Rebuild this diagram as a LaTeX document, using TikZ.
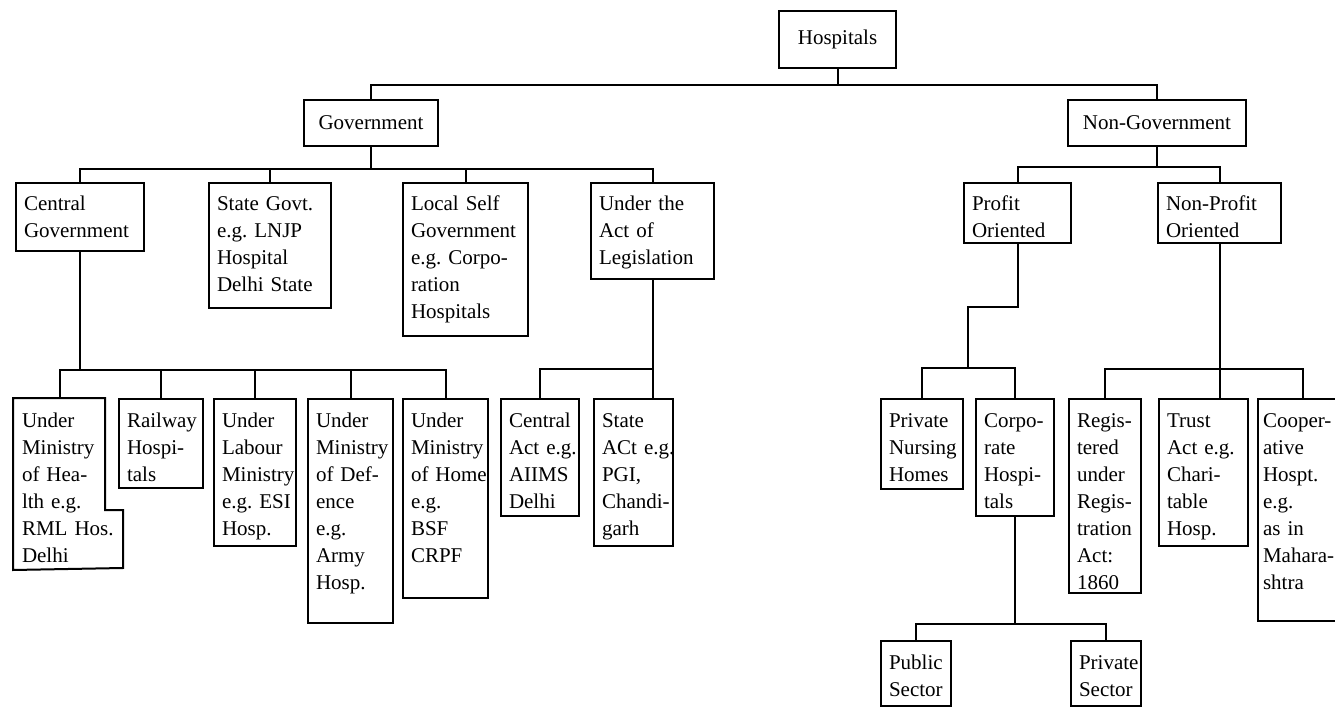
\documentclass[tikz,border=0pt]{standalone}
\usepackage{fontspec}
\setmainfont{Liberation Serif}
\usetikzlibrary{positioning}
\hyphenpenalty=10000
\exhyphenpenalty=10000

\tikzset{
  orgbox/.style={draw, line width=2pt, inner xsep=8pt, inner ysep=5pt, anchor=north west,
    align=left, font=\fontsize{21}{27}\selectfont},
  topbox/.style={orgbox, text height=23pt, text depth=#1},
  link/.style={line width=2pt},
}

\begin{document}
\begin{tikzpicture}[x=1pt,y=-1pt]
  \fill[white] (0,0) rectangle (1335,708);
  \useasboundingbox (0,0) rectangle (1335,708);

  % top levels
  \node[orgbox, align=center, text width=101pt, minimum height=57pt] (hosp) at (778,10) {Hospitals};
  \node[orgbox, align=center, text width=118pt, minimum height=46pt] (gov) at (303,99) {Government};
  \node[orgbox, align=center, text width=162pt, minimum height=46pt] (ngov) at (1067,99) {Non-Government};

  \node[topbox=35pt, text width=112pt] (cgov) at (15,182) {Central\\Government};
  \node[topbox=92pt, text width=106pt] (sgov) at (208,182) {State~Govt.\\e.g.~LNJP\\Hospital\\Delhi~State};
  \node[topbox=120pt, text width=109pt] (lgov) at (402,182) {Local~Self\\Government\\e.g.~Corpo-\\ration\\Hospitals};
  \node[topbox=63pt, text width=107pt] (act) at (590,182) {Under~the\\Act~of\\Legislation};
  \node[topbox=27pt, text width=91pt] (prof) at (963,182) {Profit\\Oriented};
  \node[topbox=27pt, text width=107pt] (nprof) at (1157,182) {Non-Profit\\Oriented};

  % central government hospitals
  \node[topbox=137pt, draw=none, text width=76pt] (hlth) at (13,398) {Under\\Ministry\\of~Hea-\\lth~e.g.\\RML~Hos.\\Delhi};
  \draw[link] (hlth.north west) -- (105,398) -- (105,510) -- (123,510) -- (123,568) -- (hlth.south west) -- cycle;
  \node[topbox=56pt, text width=68pt] (rail) at (118,398) {Railway\\Hospi-\\tals};
  \node[topbox=114pt, text width=66pt] (lab) at (213,398) {Under\\Labour\\Ministry\\e.g.~ESI\\Hosp.};
  \node[topbox=191pt, text width=69pt] (def) at (307,398) {Under\\Ministry\\of~Def-\\ence\\e.g.\\Army\\Hosp.};
  \node[topbox=166pt, text width=69pt] (home) at (402,398) {Under\\Ministry\\of~Home\\e.g.\\BSF\\CRPF};

  % acts of legislation
  \node[topbox=84pt, text width=62pt] (cact) at (500,398) {Central\\Act~e.g.\\AIIMS\\Delhi};
  \node[topbox=114pt, text width=63pt] (sact) at (593,398) {State\\ACt~e.g.\\PGI,\\Chandi-\\garh};

  % non-government hospitals
  \node[topbox=57pt, text width=66pt] (pnh) at (880,398) {Private\\Nursing\\Homes};
  \node[topbox=84pt, text width=62pt] (corp) at (975,398) {Corpo-\\rate\\Hospi-\\tals};
  \node[topbox=161pt, text width=56pt] (reg) at (1068,398) {Regis-\\tered\\under\\Regis-\\tration\\Act:\\1860};
  \node[topbox=114pt, text width=73pt] (trust) at (1158,398) {Trust\\Act~e.g.\\Chari-\\table\\Hosp.};
  \node[topbox=189pt, inner xsep=5pt, text width=80pt] (coop) at (1257,398) {Cooper-\\ative\\Hospt.\\e.g.\\as~in\\Mahara-\\shtra};
  \node[topbox=32pt, text width=54pt] (pub) at (880,640) {Public\\Sector};
  \node[topbox=32pt, text width=54pt] (priv) at (1070,640) {Private\\Sector};

  % connectors
  \foreach \c in {gov,ngov} \draw[link] (hosp.south) -- ++(0,16) -| (\c.north);
  \foreach \c in {cgov,sgov,lgov,act} \draw[link] (gov.south) -- ++(0,22) -| (\c.north);
  \foreach \c in {prof,nprof} \draw[link] (ngov.south) -- ++(0,20) -| (\c.north);
  \foreach \c in {hlth,rail,lab,def,home} \draw[link] (cgov.south) -- ++(0,118) -| (\c.north);
  \draw[link] (act.south) -- ++(0,89) -| (cact.north);
  \draw[link] (act.south) -- (act.south |- sact.north);
  \coordinate (pj) at (968,368);
  \draw[link] (prof.south) -- ++(0,63) -| (pj);
  \draw[link] (pnh.north) |- (pj) -| (corp.north);
  \foreach \c in {reg,coop} \draw[link] (nprof.south) -- ++(0,125) -| (\c.north);
  \draw[link] (nprof.south) -- (nprof.south |- trust.north);
  \foreach \c in {pub,priv} \draw[link] (corp.south) -- ++(0,107) -| (\c.north);
\end{tikzpicture}
\end{document}
